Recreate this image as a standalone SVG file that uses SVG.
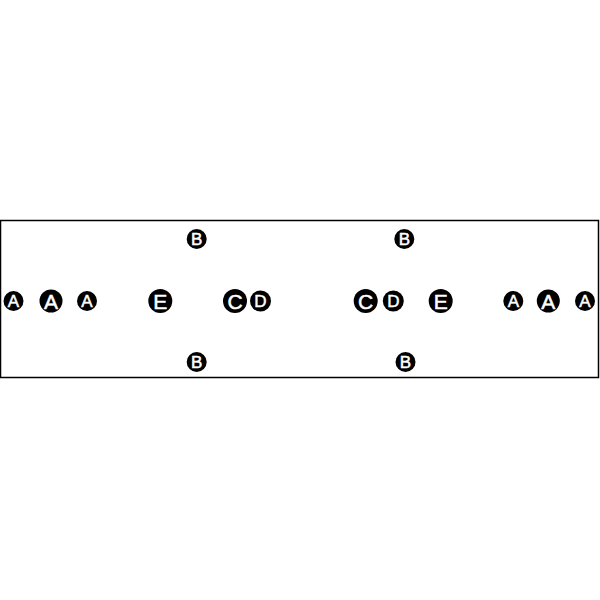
<svg xmlns="http://www.w3.org/2000/svg" width="600" height="600" viewBox="0 0 600 600">
<style>
.n circle{fill:#000}
.n text{fill:#fff;stroke:#fff;stroke-width:0.5;font-family:"Liberation Sans",Arial,sans-serif;text-anchor:middle;dominant-baseline:central}
.s text{font-size:17px}
.l text{font-size:21px}
</style>
<rect x="0.5" y="220.5" width="598" height="157" fill="#fff" stroke="#000" stroke-width="1.5"/>
<g id="connectors"/>
<g id="A1" class="n s"><circle cx="13.5" cy="301" r="10"/><text x="13.5" y="301">A</text></g>
<g id="A2" class="n l"><circle cx="51" cy="301" r="11.5"/><text x="51" y="301">A</text></g>
<g id="A3" class="n s"><circle cx="87" cy="301" r="10"/><text x="87" y="301">A</text></g>
<g id="E1" class="n l"><circle cx="160.3" cy="301" r="12"/><text x="160.3" y="301">E</text></g>
<g id="C1" class="n l"><circle cx="235" cy="301" r="12"/><text x="235" y="301">C</text></g>
<g id="D1" class="n s"><circle cx="260.5" cy="301" r="10.5"/><text x="260.5" y="301">D</text></g>
<g id="B1" class="n s"><circle cx="196.7" cy="239" r="10"/><text x="196.7" y="239">B</text></g>
<g id="B2" class="n s"><circle cx="196.7" cy="362" r="10"/><text x="196.7" y="362">B</text></g>
<g id="B3" class="n s"><circle cx="404.3" cy="239" r="10"/><text x="404.3" y="239">B</text></g>
<g id="B4" class="n s"><circle cx="405.5" cy="362" r="10"/><text x="405.5" y="362">B</text></g>
<g id="C2" class="n l"><circle cx="365.7" cy="301" r="12"/><text x="365.7" y="301">C</text></g>
<g id="D2" class="n s"><circle cx="393.3" cy="301" r="10.5"/><text x="393.3" y="301">D</text></g>
<g id="E2" class="n l"><circle cx="440.7" cy="301" r="12"/><text x="440.7" y="301">E</text></g>
<g id="A4" class="n s"><circle cx="513.3" cy="301" r="10"/><text x="513.3" y="301">A</text></g>
<g id="A5" class="n l"><circle cx="548.3" cy="301" r="11.5"/><text x="548.3" y="301">A</text></g>
<g id="A6" class="n s"><circle cx="585" cy="301" r="10"/><text x="585" y="301">A</text></g>
</svg>
